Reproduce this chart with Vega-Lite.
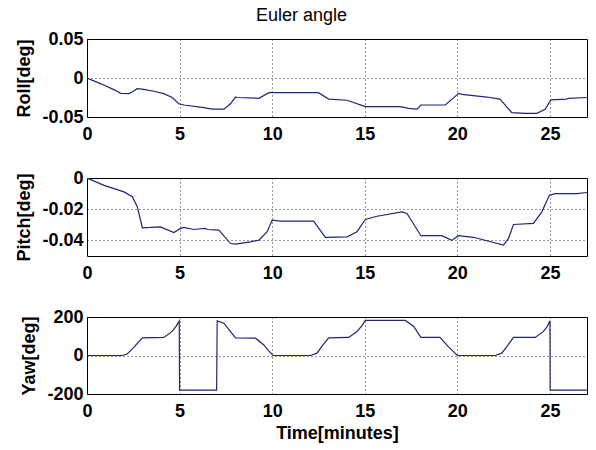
{
  "$schema": "https://vega.github.io/schema/vega-lite/v6.json",
  "autosize": {"type": "pad"},
  "padding": {"left": 15, "top": 6, "right": 6, "bottom": 5},
  "background": "white",
  "title": {"text": "Euler angle", "fontSize": 18, "fontWeight": "normal", "font": "Liberation Sans", "color": "black", "anchor": "middle", "offset": 5},
  "datasets": {
    "roll": [
      {"t": 0, "v": 0}, {"t": 0.5, "v": -0.005}, {"t": 1.0, "v": -0.01}, {"t": 1.5, "v": -0.0155}, {"t": 1.82, "v": -0.0196},
      {"t": 2.27, "v": -0.02}, {"t": 2.5, "v": -0.017}, {"t": 2.71, "v": -0.0137}, {"t": 3.07, "v": -0.0145}, {"t": 3.6, "v": -0.017},
      {"t": 4.15, "v": -0.02}, {"t": 4.6, "v": -0.025}, {"t": 4.96, "v": -0.033}, {"t": 5.23, "v": -0.0346}, {"t": 6.31, "v": -0.038},
      {"t": 6.76, "v": -0.04}, {"t": 7.39, "v": -0.04}, {"t": 7.75, "v": -0.033}, {"t": 8.02, "v": -0.0244}, {"t": 8.1, "v": -0.025},
      {"t": 9.28, "v": -0.026}, {"t": 9.82, "v": -0.0188}, {"t": 12.5, "v": -0.0188}, {"t": 13.05, "v": -0.027}, {"t": 14.04, "v": -0.0285},
      {"t": 15.03, "v": -0.0367}, {"t": 16.92, "v": -0.0367}, {"t": 17.37, "v": -0.039}, {"t": 17.82, "v": -0.04}, {"t": 18.03, "v": -0.0346},
      {"t": 19.35, "v": -0.0346}, {"t": 20.07, "v": -0.0197}, {"t": 20.24, "v": -0.021}, {"t": 21.59, "v": -0.0244}, {"t": 22.3, "v": -0.027},
      {"t": 22.94, "v": -0.0444}, {"t": 23.66, "v": -0.0453}, {"t": 24.29, "v": -0.0453}, {"t": 24.74, "v": -0.04}, {"t": 25.05, "v": -0.028},
      {"t": 25.9, "v": -0.027}, {"t": 26.0, "v": -0.026}, {"t": 27, "v": -0.025}
    ],
    "pitch": [
      {"t": 0, "v": 0}, {"t": 0.92, "v": -0.0047}, {"t": 2.0, "v": -0.0089}, {"t": 2.45, "v": -0.012}, {"t": 2.72, "v": -0.0185},
      {"t": 2.99, "v": -0.0319}, {"t": 3.43, "v": -0.0317}, {"t": 3.97, "v": -0.0313}, {"t": 4.69, "v": -0.035}, {"t": 5.05, "v": -0.0323},
      {"t": 5.23, "v": -0.0317}, {"t": 5.77, "v": -0.033}, {"t": 6.4, "v": -0.0323}, {"t": 6.5, "v": -0.033}, {"t": 7.12, "v": -0.0334},
      {"t": 7.75, "v": -0.042}, {"t": 8.02, "v": -0.0424}, {"t": 8.82, "v": -0.041}, {"t": 9.28, "v": -0.0398}, {"t": 9.73, "v": -0.0344},
      {"t": 10.0, "v": -0.027}, {"t": 10.45, "v": -0.0277}, {"t": 12.24, "v": -0.0277}, {"t": 12.87, "v": -0.038}, {"t": 14.04, "v": -0.0377},
      {"t": 14.58, "v": -0.0344}, {"t": 15.03, "v": -0.0266}, {"t": 15.66, "v": -0.0245}, {"t": 17.01, "v": -0.0217}, {"t": 17.28, "v": -0.0227},
      {"t": 18.03, "v": -0.037}, {"t": 19.16, "v": -0.037}, {"t": 19.7, "v": -0.04}, {"t": 20.06, "v": -0.037}, {"t": 20.87, "v": -0.038},
      {"t": 22.49, "v": -0.043}, {"t": 22.76, "v": -0.0387}, {"t": 23.03, "v": -0.0298}, {"t": 24.11, "v": -0.0291}, {"t": 24.56, "v": -0.0217},
      {"t": 24.97, "v": -0.011}, {"t": 25.28, "v": -0.01}, {"t": 26.45, "v": -0.01}, {"t": 27, "v": -0.0093}
    ],
    "yaw": [
      {"t": 0, "v": 0}, {"t": 1.9, "v": 0}, {"t": 2.17, "v": 8}, {"t": 2.5, "v": 40}, {"t": 2.99, "v": 92},
      {"t": 4.15, "v": 94}, {"t": 4.6, "v": 125}, {"t": 4.8, "v": 150}, {"t": 4.98, "v": 180}, {"t": 5.0, "v": -180},
      {"t": 7.0, "v": -180}, {"t": 7.03, "v": 180}, {"t": 7.39, "v": 168}, {"t": 7.7, "v": 130}, {"t": 8.02, "v": 92},
      {"t": 9.1, "v": 90}, {"t": 9.55, "v": 55}, {"t": 9.8, "v": 25}, {"t": 10.05, "v": 0}, {"t": 12.06, "v": 0},
      {"t": 12.42, "v": 12}, {"t": 12.7, "v": 50}, {"t": 13.05, "v": 92}, {"t": 14.13, "v": 94}, {"t": 14.58, "v": 125},
      {"t": 14.85, "v": 155}, {"t": 15.03, "v": 182}, {"t": 17.19, "v": 182}, {"t": 17.64, "v": 151}, {"t": 18.03, "v": 94},
      {"t": 19.06, "v": 94}, {"t": 19.5, "v": 47}, {"t": 20.0, "v": 0}, {"t": 22.04, "v": 0}, {"t": 22.4, "v": 12},
      {"t": 22.7, "v": 50}, {"t": 23.03, "v": 94}, {"t": 24.2, "v": 94}, {"t": 24.65, "v": 125}, {"t": 24.85, "v": 150},
      {"t": 25.0, "v": 180}, {"t": 25.01, "v": -180}, {"t": 27, "v": -180}
    ]
  },
  "bounds": "flush",
  "spacing": 61,
  "vconcat": [
    {
      "width": 500, "height": 78,
      "data": {"name": "roll"},
      "mark": {"type": "line", "color": "#23237a", "strokeWidth": 1.2, "clip": true},
      "encoding": {
        "x": {"field": "t", "type": "quantitative", "scale": {"domain": [0, 27], "nice": false, "zero": false},
              "axis": {"values": [0, 5, 10, 15, 20, 25], "title": null, "labelPadding": 8}},
        "y": {"field": "v", "type": "quantitative", "scale": {"domain": [-0.05, 0.05], "nice": false},
              "axis": {"values": [-0.05, 0, 0.05], "title": "Roll[deg]", "format": "~g"}}
      }
    },
    {
      "width": 500, "height": 78,
      "data": {"name": "pitch"},
      "mark": {"type": "line", "color": "#23237a", "strokeWidth": 1.2, "clip": true},
      "encoding": {
        "x": {"field": "t", "type": "quantitative", "scale": {"domain": [0, 27], "nice": false, "zero": false},
              "axis": {"values": [0, 5, 10, 15, 20, 25], "title": null, "labelPadding": 8}},
        "y": {"field": "v", "type": "quantitative", "scale": {"domain": [-0.05, 0], "nice": false},
              "axis": {"values": [-0.04, -0.02, 0], "title": "Pitch[deg]", "format": "~g"}}
      }
    },
    {
      "width": 500, "height": 77,
      "data": {"name": "yaw"},
      "mark": {"type": "line", "color": "#23237a", "strokeWidth": 1.2, "clip": true},
      "encoding": {
        "x": {"field": "t", "type": "quantitative", "scale": {"domain": [0, 27], "nice": false, "zero": false},
              "axis": {"values": [0, 5, 10, 15, 20, 25], "title": "Time[minutes]", "labelPadding": 8, "titlePadding": 4}},
        "y": {"field": "v", "type": "quantitative", "scale": {"domain": [-200, 200], "nice": false},
              "axis": {"values": [-200, 0, 200], "title": "Yaw[deg]", "format": "d"}}
      }
    }
  ],
  "config": {
    "view": {"stroke": "black", "strokeWidth": 1},
    "font": "Liberation Sans",
    "axis": {
      "domain": false,
      "ticks": false,
      "grid": true,
      "gridColor": "black",
      "gridOpacity": 0.8,
      "gridDash": [1, 3],
      "gridWidth": 1,
      "labelFont": "Liberation Sans",
      "labelFontSize": 18,
      "labelFontWeight": "bold",
      "labelColor": "black",
      "labelPadding": 4,
      "labelExpr": "replace(datum.label, '\u2212', '-')",
      "labelOverlap": false,
      "labelFlush": false,
      "titleFont": "Liberation Sans",
      "titleFontSize": 18,
      "titleFontWeight": "bold",
      "titleColor": "black",
      "titlePadding": 8
    }
  }
}
